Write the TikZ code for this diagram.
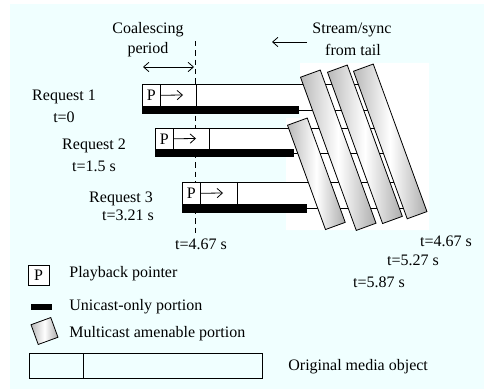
\documentclass[tikz,border=0pt]{standalone}
\usepackage{fontspec}
\setmainfont{Liberation Serif}
\usetikzlibrary{arrows.meta}
\definecolor{bgazure}{RGB}{240,255,255}
\tikzset{
  pbox/.style={draw, fill=white, inner sep=0pt, minimum width=13.5pt, minimum height=16.5pt},
  mbar/.style={draw, inner sep=0pt, minimum width=15.75pt, left color=gray!55, right color=gray!65, middle color=white},
  ptr/.style={-{Straight Barb[length=4pt,width=7pt]}},
  dptr/.style={{Straight Barb[length=4pt,width=7pt]}-{Straight Barb[length=4pt,width=7pt]}},
  lgtext/.style={anchor=west, inner sep=0pt},
}
\begin{document}
\begin{tikzpicture}[x=0.75pt,y=0.75pt,yscale=-1,xscale=1,font=\fontsize{12}{14}\selectfont,line width=0.6pt]
\useasboundingbox (0,0) rectangle (484,391);

%Shape: Rectangle [background]
\fill[bgazure] (10,4) rectangle (484,389);
%Shape: Polygon [white behind the bars]
\fill[white] (300,63) -- (429,63) -- (429,230) -- (286,230) -- (286,118) -- (300,118) -- cycle;

% Text Node
\draw (148,30) node (coal) {Coalescing};
% Text Node
\draw (148,50) node (period) {period};
% Text Node
\draw (352,30) node (stream) {Stream/sync};
% Text Node
\draw (353,50) node (tail) {from tail};

%Straight Lines [stream arrow]
\coordinate (stfrom) at (307,42);
\coordinate (stto) at (272,42);
\draw[ptr] (stfrom) -- (stto);
%Straight Lines [coalescing arrow]
\coordinate (coleft) at (143,67);
\coordinate (coright) at (194,67);
\draw[dptr] (coleft) -- (coright);
%Straight Lines [dashed]
\coordinate (dtop) at (195,41);
\coordinate (dbot) at (195,236);
\draw[dash pattern=on 4pt off 3pt] (dtop) -- (dbot);

%Shape: Rectangle [request 1]
\fill[white] (142,84) rectangle (369,110);
\draw (369,84) -- (142,84) -- (142,106);
\draw (142,110) -- (378,110);
\fill (142,106) rectangle (299,114);
\draw (196,84) -- (196,106);
\node[pbox, anchor=north west] (pone) at (142,84) {P};
\coordinate (aone) at (183,95);
\draw[ptr] (pone) -- (aone);

%Shape: Rectangle [request 2]
\fill[white] (155,128) rectangle (385,153);
\draw (385,128) -- (155,128) -- (155,149);
\draw (155,153) -- (394,153);
\fill (155,149) rectangle (294,157);
\draw (209,128) -- (209,149);
\node[pbox, anchor=north west, minimum height=15.75pt] (ptwo) at (155,128) {P};
\coordinate (atwo) at (196,138.5);
\draw[ptr] (ptwo) -- (atwo);

%Shape: Rectangle [request 3]
\fill[white] (182,182) rectangle (405,208.5);
\draw (405,182) -- (182,182) -- (182,204);
\draw (182,208.5) -- (414,208.5);
\fill (182,204) rectangle (307,213);
\draw (237,182) -- (237,204);
\node[pbox, anchor=north west] (pthree) at (182,182) {P};
\coordinate (athree) at (223,193);
\draw[ptr] (pthree) -- (athree);

%Shape: Bars [multicast]
\node[mbar, anchor=north west, rotate=20, minimum height=122.25pt] (barA) at (300,77) {};
\node[mbar, anchor=north west, rotate=20, minimum height=120.75pt] (barB) at (327,72) {};
\node[mbar, anchor=north west, rotate=20, minimum height=117.75pt] (barC) at (353,71) {};
\node[mbar, anchor=north west, rotate=20, minimum height=83.25pt] (barD) at (287,125) {};

% Text Node
\draw (64,97) node (reqone) {Request 1};
% Text Node
\draw (64,117) node (tone) {t=0};
% Text Node
\draw (94,146) node (reqtwo) {Request 2};
% Text Node
\draw (94,166) node (ttwo) {t=1.5 s};
% Text Node
\draw (121,199) node (reqthree) {Request 3};
% Text Node
\draw (128,215) node (tthree) {t=3.21 s};
% Text Node
\draw (201,244) node (tcoal) {t=4.67 s};
% Text Node
\draw (446,241) node (tendA) {t=4.67 s};
% Text Node
\draw (413,260) node (tendB) {t=5.27 s};
% Text Node
\draw (379,282) node (tendC) {t=5.87 s};

%Legend
\node[pbox, minimum width=15.75pt, minimum height=15pt] (lgp) at (38.5,275) {P};
\draw (69,274) node[lgtext] (lgptext) {Playback pointer};
\node[fill=black, inner sep=0pt, minimum width=15.75pt, minimum height=4.5pt] (lgu) at (41.5,307) {};
\draw (69,307) node[lgtext] (lgutext) {Unicast-only portion};
\node[mbar, rotate=20, minimum height=15.75pt] (lgm) at (44.5,331) {};
\draw (69,334) node[lgtext] (lgmtext) {Multicast amenable portion};
%Shape: Rectangle [media object]
\draw (29,353) rectangle (262,378);
\draw (83,353) -- (83,378);
\draw (288,367) node[lgtext] (lgotext) {Original media object};

\end{tikzpicture}
\end{document}
